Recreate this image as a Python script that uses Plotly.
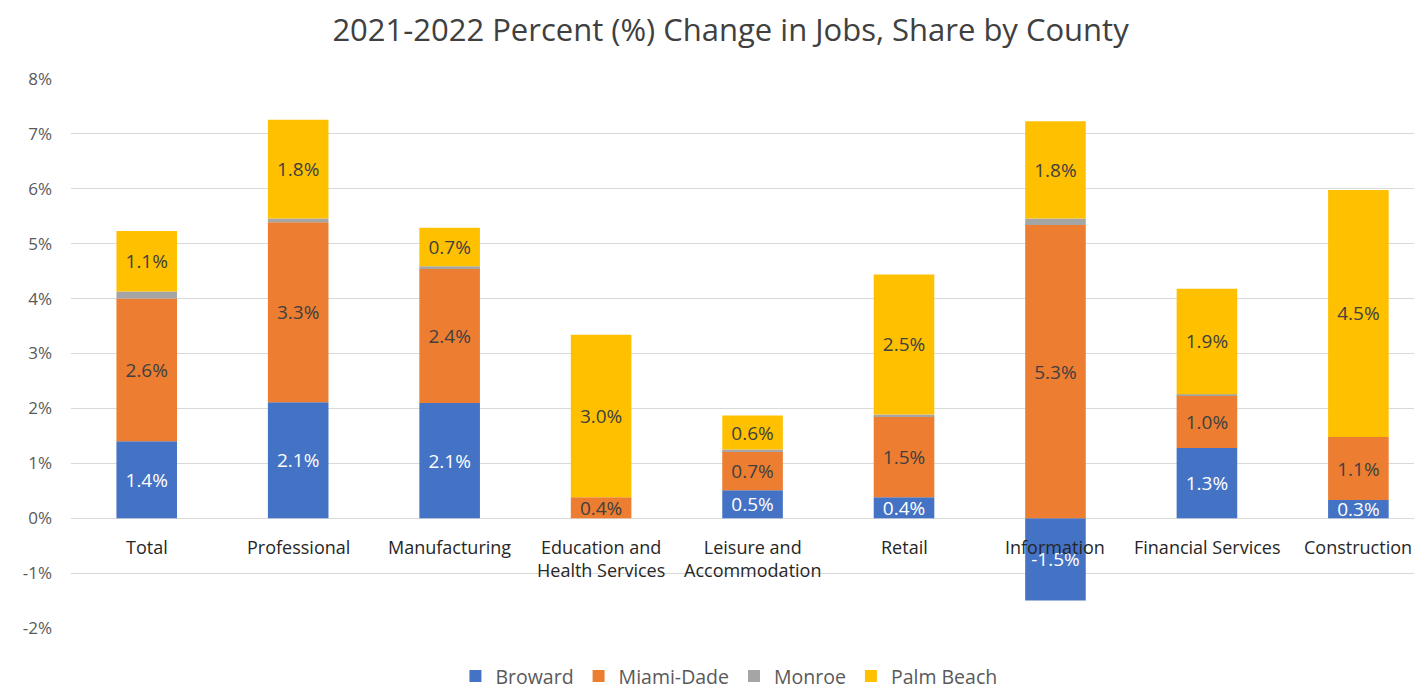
import plotly.graph_objects as go

categories = ["Total", "Professional", "Manufacturing", "Education and<br>Health Services",
              "Leisure and<br>Accommodation", "Retail", "Information", "Financial Services", "Construction"]
broward = [1.40, 2.11, 2.10, 0.0, 0.51, 0.38, -1.50, 1.28, 0.33]
miami_dade = [2.60, 3.28, 2.44, 0.38, 0.71, 1.48, 5.34, 0.96, 1.15]
monroe = [0.13, 0.07, 0.05, 0.0, 0.03, 0.03, 0.12, 0.02, 0.0]
palm_beach = [1.10, 1.80, 0.70, 2.96, 0.62, 2.55, 1.77, 1.92, 4.50]
y_ticks = [-2, -1, 0, 1, 2, 3, 4, 5, 6, 7, 8]

series = [
    ("Broward", broward, "#4472C4", "white", True),
    ("Miami-Dade", miami_dade, "#ED7D31", "#404040", True),
    ("Monroe", monroe, "#A5A5A5", "#404040", False),
    ("Palm Beach", palm_beach, "#FFC000", "#404040", True),
]

FONT = "Open Sans"
xs = list(range(len(categories)))
fig = go.Figure()
for name, vals, color, tcolor, show in series:
    texts = [(f"{v:.1f}%" if (show and v != 0) else "") for v in vals]
    fig.add_trace(go.Bar(
        x=xs, y=vals, name=name, marker=dict(color=color, line=dict(width=0)),
        width=0.40, text=texts, textposition="inside", insidetextanchor="middle",
        textfont=dict(color=tcolor, size=19, family=FONT),
        hoverinfo="skip",
    ))

annotations = [dict(x=i, y=0, xref="x", yref="y", text=c, showarrow=False,
                    yanchor="top", yshift=-15, font=dict(size=18, color="#262626", family=FONT))
               for i, c in enumerate(categories)]

# page body has an 8px default margin, so the figure is 8px smaller and offset
fig.update_layout(
    barmode="relative",
    width=1414, height=684,
    margin=dict(l=63, r=0, t=71, b=64, autoexpand=False),
    paper_bgcolor="white", plot_bgcolor="white",
    title=dict(text="2021-2022 Percent (%) Change in Jobs, Share by County",
               x=0.511, xanchor="center", y=0.968, yanchor="middle",
               font=dict(size=31, color="#404040", family=FONT)),
    xaxis=dict(range=[-0.5, 8.42], showticklabels=False, showgrid=False, zeroline=False,
               tickvals=xs, fixedrange=True, automargin=False),
    yaxis=dict(range=[-2, 8], tickvals=y_ticks, ticktext=[f"{t}%" for t in y_ticks],
               showgrid=True, gridcolor="#D9D9D9", gridwidth=1.2,
               zeroline=True, zerolinecolor="#D9D9D9", zerolinewidth=1.2,
               tickfont=dict(size=17, color="#595959", family=FONT),
               ticklabelstandoff=18, ticks="", automargin=False),
    legend=dict(orientation="h", x=0.487, xanchor="center", y=-0.088, yanchor="middle",
                font=dict(size=19.5, color="#595959", family=FONT),
                itemwidth=30, traceorder="normal"),
    uniformtext=dict(minsize=19, mode="show"),
    annotations=annotations,
)
fig.write_html("out.html")
